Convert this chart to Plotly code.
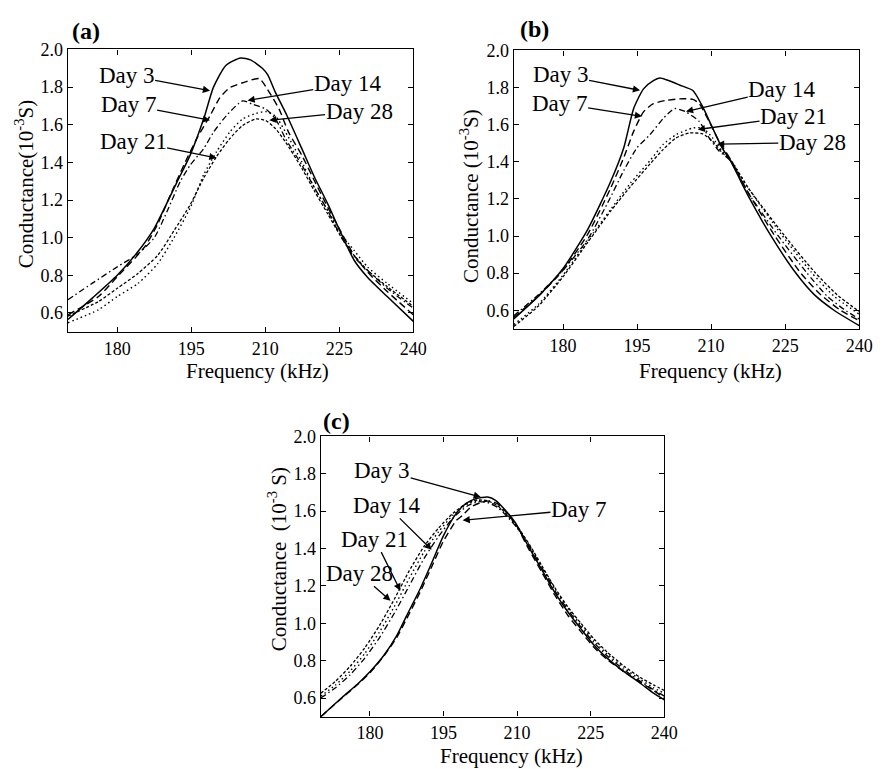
import plotly.graph_objects as go

# ---------------- data (frequency in kHz, conductance in 1e-3 S) ----------------
# Panel (a)
A_D3_F = [170, 175, 180, 184, 187.5, 192, 194.8, 197.5, 199.5, 202, 205, 207, 209.4, 210.5, 212, 214.4, 217.4, 220, 222.7, 225.4, 228, 230.7, 234.7, 240]
A_D3_G = [0.565, 0.68, 0.80, 0.92, 1.05, 1.29, 1.44, 1.63, 1.80, 1.915, 1.955, 1.945, 1.90, 1.865, 1.775, 1.648, 1.473, 1.32, 1.177, 1.02, 0.88, 0.79, 0.687, 0.555]
A_D7_F = [170, 176.2, 180, 185.5, 188.2, 190.8, 193.5, 196.1, 198.8, 200.8, 202.8, 205.4, 208.8, 210.4, 212.8, 214.7, 217.4, 220, 222.7, 225.4, 228, 230.7, 234.7, 240]
A_D7_G = [0.59, 0.687, 0.792, 0.949, 1.072, 1.229, 1.386, 1.526, 1.648, 1.744, 1.797, 1.823, 1.845, 1.79, 1.683, 1.561, 1.438, 1.30, 1.159, 1.028, 0.906, 0.818, 0.714, 0.59]
A_D14_F = [170, 174.9, 180, 184.2, 187.5, 190.1, 192.8, 194.8, 197.5, 199.5, 202.1, 205.4, 207.4, 210.1, 212.1, 214.1, 217.4, 220, 222.7, 225.4, 228, 230.7, 234.7, 240]
A_D14_G = [0.67, 0.757, 0.845, 0.914, 1.0, 1.14, 1.30, 1.386, 1.473, 1.56, 1.648, 1.727, 1.709, 1.683, 1.63, 1.526, 1.386, 1.264, 1.141, 1.002, 0.897, 0.827, 0.731, 0.625]
A_D21_F = [170, 176.2, 180, 184.2, 188.2, 191.5, 194.8, 197.5, 200.1, 202.8, 205.4, 208.1, 210.1, 212.1, 214.1, 217.4, 220, 222.7, 225.4, 228, 230.7, 234.7, 240]
A_D21_G = [0.548, 0.617, 0.687, 0.757, 0.862, 1.0, 1.159, 1.334, 1.456, 1.561, 1.631, 1.66, 1.67, 1.645, 1.561, 1.403, 1.264, 1.141, 1.019, 0.932, 0.845, 0.757, 0.65]
A_D28_F = [170, 176.2, 180, 184.2, 188.2, 191.5, 194.8, 197.5, 200.1, 202.8, 205.4, 208.1, 210.1, 212.1, 214.1, 217.4, 220, 222.7, 225.4, 228, 230.7, 234.7, 240]
A_D28_G = [0.583, 0.661, 0.731, 0.81, 0.906, 1.037, 1.176, 1.316, 1.43, 1.526, 1.596, 1.631, 1.622, 1.578, 1.508, 1.369, 1.246, 1.124, 1.002, 0.906, 0.827, 0.74, 0.635]

# Panel (b)
B_D3_F = [170, 175, 180, 185, 189.6, 192.3, 194.3, 196.3, 198.3, 199.6, 200.9, 203.6, 206.3, 208.3, 210.3, 212.2, 213.9, 217.6, 222.2, 227.2, 230.9, 234.9, 240]
B_D3_G = [0.553, 0.676, 0.825, 1.036, 1.291, 1.476, 1.687, 1.793, 1.837, 1.851, 1.842, 1.814, 1.784, 1.696, 1.582, 1.476, 1.406, 1.212, 0.998, 0.799, 0.684, 0.60, 0.517]
B_D7_F = [170, 175, 180, 185, 189.6, 192.3, 194.3, 196.3, 198.3, 200.9, 204.3, 206.3, 207.6, 209.6, 211.6, 213.9, 217.6, 222.9, 228.2, 232.2, 236.2, 240]
B_D7_G = [0.561, 0.676, 0.816, 1.01, 1.256, 1.423, 1.564, 1.669, 1.713, 1.731, 1.74, 1.736, 1.713, 1.617, 1.511, 1.414, 1.23, 1.001, 0.799, 0.684, 0.60, 0.544]
B_D14_F = [170, 175, 180, 185, 189, 192.3, 195, 197.6, 200.3, 202.6, 204.9, 207.6, 209.6, 211.6, 213.9, 217.6, 223.6, 229.2, 233.5, 236.9, 240]
B_D14_G = [0.57, 0.684, 0.816, 0.983, 1.177, 1.353, 1.476, 1.546, 1.634, 1.687, 1.669, 1.617, 1.529, 1.458, 1.406, 1.23, 1.001, 0.808, 0.676, 0.605, 0.553]
B_D21_F = [170, 175, 180, 185, 189.6, 193.6, 197.6, 200.3, 202.9, 206.3, 208.3, 210.3, 212.2, 213.9, 217.6, 224.2, 230.2, 234.9, 240]
B_D21_G = [0.523, 0.632, 0.79, 0.975, 1.142, 1.283, 1.406, 1.494, 1.546, 1.582, 1.582, 1.529, 1.458, 1.414, 1.256, 1.01, 0.808, 0.676, 0.579]
B_D28_F = [170, 175, 180, 185, 189.6, 193.6, 197.6, 200.3, 202.9, 205.6, 208.3, 210.3, 212.2, 213.9, 217.6, 224.9, 230.9, 235.5, 240]
B_D28_G = [0.512, 0.623, 0.781, 0.966, 1.133, 1.265, 1.388, 1.467, 1.529, 1.555, 1.55, 1.511, 1.45, 1.409, 1.256, 1.001, 0.808, 0.684, 0.593]

# Panel (c)
C_D3_F = [170, 174.2, 177.5, 180, 182.9, 185.5, 187.5, 190.2, 192.9, 194.9, 197.6, 199.6, 201.6, 204, 205.6, 207.6, 209.7, 212.3, 215, 217.7, 220.4, 223, 225.7, 228.4, 231.8, 235.1, 237.8, 240]
C_D3_G = [0.50, 0.60, 0.675, 0.74, 0.83, 0.935, 1.041, 1.182, 1.341, 1.464, 1.588, 1.641, 1.667, 1.676, 1.658, 1.605, 1.535, 1.411, 1.288, 1.164, 1.059, 0.97, 0.882, 0.812, 0.741, 0.679, 0.626, 0.59]
C_D7_F = [170, 174.2, 177.5, 180, 183, 185.5, 187.5, 190.2, 192.9, 194.9, 197.6, 198.8, 200.5, 202.5, 204.5, 206, 207.6, 209.7, 212.3, 215, 217.7, 220.4, 223, 225.7, 228.4, 231.8, 235.1, 237.8, 240]
C_D7_G = [0.50, 0.598, 0.672, 0.735, 0.83, 0.925, 1.025, 1.165, 1.32, 1.435, 1.55, 1.575, 1.62, 1.645, 1.655, 1.64, 1.60, 1.53, 1.40, 1.275, 1.15, 1.04, 0.955, 0.87, 0.805, 0.74, 0.685, 0.64, 0.60]
C_GRP_F = [170, 173, 176, 179, 182, 185, 188, 191, 194, 197, 200, 202, 204, 206, 208, 210, 212.3, 215, 217.7, 220.4, 223, 225.7, 228.4, 231.8, 235.1, 237.8, 240]
C_D14_G = [0.60, 0.655, 0.725, 0.815, 0.925, 1.055, 1.20, 1.345, 1.465, 1.565, 1.63, 1.65, 1.645, 1.62, 1.57, 1.51, 1.42, 1.30, 1.175, 1.07, 0.98, 0.895, 0.825, 0.75, 0.69, 0.645, 0.61]
C_D21_G = [0.61, 0.67, 0.745, 0.84, 0.955, 1.09, 1.24, 1.38, 1.49, 1.58, 1.64, 1.655, 1.65, 1.625, 1.575, 1.515, 1.425, 1.305, 1.185, 1.08, 0.99, 0.905, 0.835, 0.76, 0.70, 0.655, 0.625]
C_D28_G = [0.625, 0.69, 0.77, 0.87, 0.99, 1.13, 1.28, 1.41, 1.51, 1.59, 1.645, 1.66, 1.655, 1.63, 1.58, 1.52, 1.43, 1.31, 1.19, 1.085, 1.0, 0.915, 0.845, 0.77, 0.71, 0.67, 0.64]

X_TICKS = [180, 195, 210, 225, 240]
Y_TICKS = [0.6, 0.8, 1.0, 1.2, 1.4, 1.6, 1.8, 2.0]
SERIES_NAMES = ["Day 3", "Day 7", "Day 14", "Day 21", "Day 28"]

# ---------------- styles ----------------
FONT = "Liberation Serif"
DASH = {
    "Day 3": "solid",
    "Day 7": "7px,4px",
    "Day 14": "6px,3px,1.5px,3px",
    "Day 21": "1.5px,3px",
    "Day 28": "3px,2px",
}
WIDTH = {"Day 3": 1.5, "Day 7": 1.4, "Day 14": 1.3, "Day 21": 1.4, "Day 28": 1.3}

panels = [
    ("x", "y", [(A_D3_F, A_D3_G), (A_D7_F, A_D7_G), (A_D14_F, A_D14_G), (A_D21_F, A_D21_G), (A_D28_F, A_D28_G)]),
    ("x2", "y2", [(B_D3_F, B_D3_G), (B_D7_F, B_D7_G), (B_D14_F, B_D14_G), (B_D21_F, B_D21_G), (B_D28_F, B_D28_G)]),
    ("x3", "y3", [(C_D3_F, C_D3_G), (C_D7_F, C_D7_G), (C_GRP_F, C_D14_G), (C_GRP_F, C_D21_G), (C_GRP_F, C_D28_G)]),
]

fig = go.Figure()
for xa, ya, series in panels:
    for name, (fx, gy) in zip(SERIES_NAMES, series):
        fig.add_trace(go.Scatter(
            x=fx, y=gy, mode="lines", name=name, xaxis=xa, yaxis=ya,
            line=dict(color="black", width=WIDTH[name], dash=DASH[name], shape="spline", smoothing=0.6),
            showlegend=False, hoverinfo="skip",
        ))

W, H = 884, 769
def xd(a, b):
    return [a / W, b / W]
def yd(top, bot):
    return [1 - bot / H, 1 - top / H]

common_x = dict(range=[170, 240], tickvals=X_TICKS, ticks="inside", ticklen=5, tickwidth=1.2,
                tickcolor="black", showline=True, mirror="ticks", linecolor="black", linewidth=1.4,
                showgrid=False, zeroline=False, tickfont=dict(family=FONT, size=18, color="black"))
common_y = dict(range=[0.5, 2.0], tickvals=Y_TICKS, tickformat=".1f", ticks="inside", ticklen=5,
                tickwidth=1.2, tickcolor="black", showline=True, mirror="ticks", linecolor="black",
                linewidth=1.4, showgrid=False, zeroline=False,
                tickfont=dict(family=FONT, size=18, color="black"))

fig.update_layout(
    width=W, height=H, margin=dict(l=0, r=0, t=0, b=0), autosize=False,
    paper_bgcolor="white", plot_bgcolor="white",
    xaxis=dict(common_x, domain=xd(69, 420), anchor="y"),
    yaxis=dict(common_y, domain=yd(40, 326), anchor="x"),
    xaxis2=dict(common_x, domain=xd(522, 873), anchor="y2"),
    yaxis2=dict(common_y, domain=yd(41, 323), anchor="x2"),
    xaxis3=dict(common_x, domain=xd(326, 675), anchor="y3"),
    yaxis3=dict(common_y, domain=yd(432, 716), anchor="x3"),
)

ann = []
def label(text, x, y, size=21, angle=0):
    ann.append(dict(text=text, xref="paper", yref="paper", x=x / W, y=1 - y / H,
                    showarrow=False, textangle=angle, xanchor="center", yanchor="middle",
                    font=dict(family=FONT, size=size, color="black")))

# panel letters
label("<b>(a)</b>", 87, 21, size=24)
label("<b>(b)</b>", 543, 19, size=24)
label("<b>(c)</b>", 342, 416, size=24)
# axis titles
label("Frequency (kHz)", 262, 366)
label("Frequency (kHz)", 722, 366)
label("Frequency (kHz)", 520, 756)
label("Conductance(10<sup>-3</sup>S)", 25, 176, angle=-90)
label("Conductance (10<sup>-3</sup>S)", 477, 188, angle=-90)
label("Conductance  (10<sup>-3</sup> S)", 282, 557, angle=-90)

# arrow labels: (text, xaxis, yaxis, text_x, text_y, tip_x, tip_y)
CALLOUTS = [
    ("Day 3", "x", "y", 181.9, 1.864, 198.8, 1.781),
    ("Day 7", "x", "y", 182.3, 1.707, 198.8, 1.624),
    ("Day 21", "x", "y", 183.2, 1.513, 200.1, 1.424),
    ("Day 14", "x", "y", 226.7, 1.817, 206.4, 1.729),
    ("Day 28", "x", "y", 229.0, 1.672, 210.8, 1.624),
    ("Day 3", "x2", "y2", 179.5, 1.868, 195.6, 1.785),
    ("Day 7", "x2", "y2", 179.3, 1.715, 196.0, 1.645),
    ("Day 14", "x2", "y2", 224.4, 1.792, 204.9, 1.671),
    ("Day 21", "x2", "y2", 226.7, 1.644, 207.3, 1.574),
    ("Day 28", "x2", "y2", 230.5, 1.504, 211.2, 1.495),
    ("Day 3", "x3", "y3", 182.5, 1.819, 202.6, 1.675),
    ("Day 14", "x3", "y3", 183.4, 1.631, 192.6, 1.393),
    ("Day 21", "x3", "y3", 181.0, 1.450, 186.2, 1.174),
    ("Day 28", "x3", "y3", 177.8, 1.268, 184.2, 1.121),
    ("Day 7", "x3", "y3", 222.6, 1.608, 198.9, 1.551),
]
for text, xa, ya, tx, ty, px, py in CALLOUTS:
    ann.append(dict(text=text, xref=xa, yref=ya, x=px, y=py, axref=xa, ayref=ya, ax=tx, ay=ty,
                    showarrow=True, arrowhead=2, arrowsize=1.1, arrowwidth=1.3, arrowcolor="black",
                    standoff=0, startstandoff=0, borderpad=0,
                    font=dict(family=FONT, size=23, color="black")))

fig.update_layout(annotations=ann)
fig.write_html("out.html", config={"displayModeBar": False},
               post_script="document.body.style.margin='0px';document.body.style.padding='0px';")
